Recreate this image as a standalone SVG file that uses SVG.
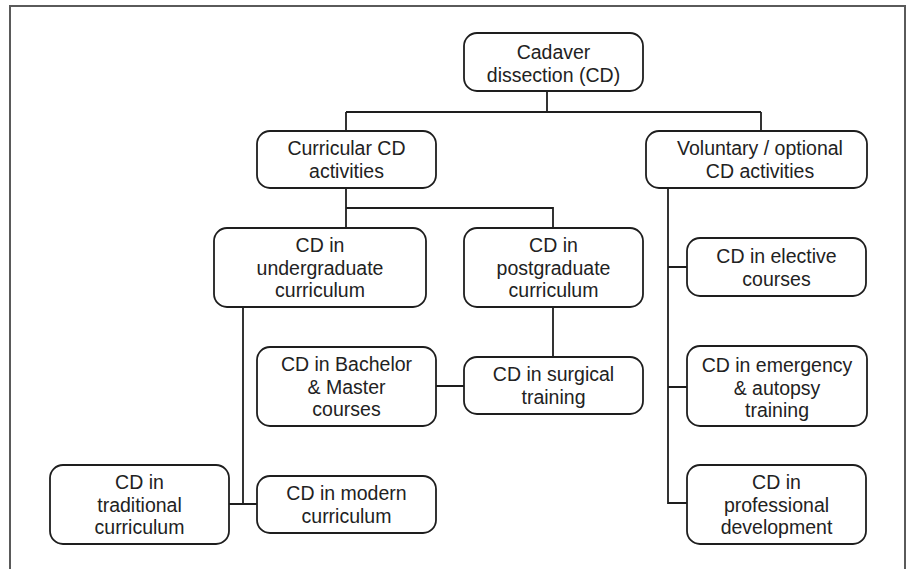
<svg xmlns="http://www.w3.org/2000/svg" width="911" height="569" viewBox="0 0 911 569">
<style>
.box{fill:#fff;stroke:#1e1e1e;stroke-width:1.8}
.t{font-family:"Liberation Sans",Arial,sans-serif;font-size:19.5px;fill:#222;text-anchor:middle}
.c{fill:none;stroke:#1e1e1e;stroke-width:1.8}
.frame{fill:none;stroke:#5a5a5a;stroke-width:2}
</style>
<rect width="911" height="569" fill="#fff"/>
<path class="frame" d="M10,569 V6 H905 V569"/>
<g id="connectors">
<path class="c" d="M547,91 V112 M346,112 H761 M346,112 V131 M761,112 V131"/>
<path class="c" d="M346,188 V228 M346,208 H553 V228"/>
<path class="c" d="M553,307 V357 M436,386 H464"/>
<path class="c" d="M243,307 V504 M229,504 H257"/>
<path class="c" d="M668,188 V503 H687 M668,267 H687 M668,387 H687"/>
</g>
<g id="root"><rect class="box" x="464" y="33" width="179" height="58" rx="13"/>
<text class="t" x="553.5" y="58.5">Cadaver</text><text class="t" x="553.5" y="81.5">dissection (CD)</text></g>
<g id="curricular"><rect class="box" x="257" y="131" width="179" height="57" rx="13"/>
<text class="t" x="346.5" y="155">Curricular CD</text><text class="t" x="346.5" y="177.5">activities</text></g>
<g id="voluntary"><rect class="box" x="646" y="131" width="221" height="57" rx="13"/>
<text class="t" x="760" y="155">Voluntary / optional</text><text class="t" x="760" y="177.5">CD activities</text></g>
<g id="undergraduate"><rect class="box" x="214" y="228" width="212" height="79" rx="13"/>
<text class="t" x="320" y="252">CD in</text><text class="t" x="320" y="274.5">undergraduate</text><text class="t" x="320" y="297">curriculum</text></g>
<g id="postgraduate"><rect class="box" x="464" y="228" width="179" height="79" rx="13"/>
<text class="t" x="553.5" y="252">CD in</text><text class="t" x="553.5" y="274.5">postgraduate</text><text class="t" x="553.5" y="297">curriculum</text></g>
<g id="elective"><rect class="box" x="687" y="238" width="179" height="58" rx="13"/>
<text class="t" x="776.5" y="263">CD in elective</text><text class="t" x="776.5" y="286">courses</text></g>
<g id="bachelor"><rect class="box" x="257" y="347" width="179" height="79" rx="13"/>
<text class="t" x="346.5" y="371">CD in Bachelor</text><text class="t" x="346.5" y="393.5">&amp; Master</text><text class="t" x="346.5" y="416">courses</text></g>
<g id="surgical"><rect class="box" x="464" y="357" width="179" height="57" rx="13"/>
<text class="t" x="553.5" y="381">CD in surgical</text><text class="t" x="553.5" y="403.5">training</text></g>
<g id="emergency"><rect class="box" x="687" y="346" width="180" height="80" rx="13"/>
<text class="t" x="777" y="372">CD in emergency</text><text class="t" x="777" y="394.5">&amp; autopsy</text><text class="t" x="777" y="417">training</text></g>
<g id="traditional"><rect class="box" x="50" y="465" width="179" height="79" rx="13"/>
<text class="t" x="139.5" y="489">CD in</text><text class="t" x="139.5" y="511.5">traditional</text><text class="t" x="139.5" y="534">curriculum</text></g>
<g id="modern"><rect class="box" x="257" y="476" width="179" height="57" rx="13"/>
<text class="t" x="346.5" y="500">CD in modern</text><text class="t" x="346.5" y="522.5">curriculum</text></g>
<g id="professional"><rect class="box" x="687" y="465" width="179" height="79" rx="13"/>
<text class="t" x="776.5" y="489">CD in</text><text class="t" x="776.5" y="511.5">professional</text><text class="t" x="776.5" y="534">development</text></g>
</svg>
